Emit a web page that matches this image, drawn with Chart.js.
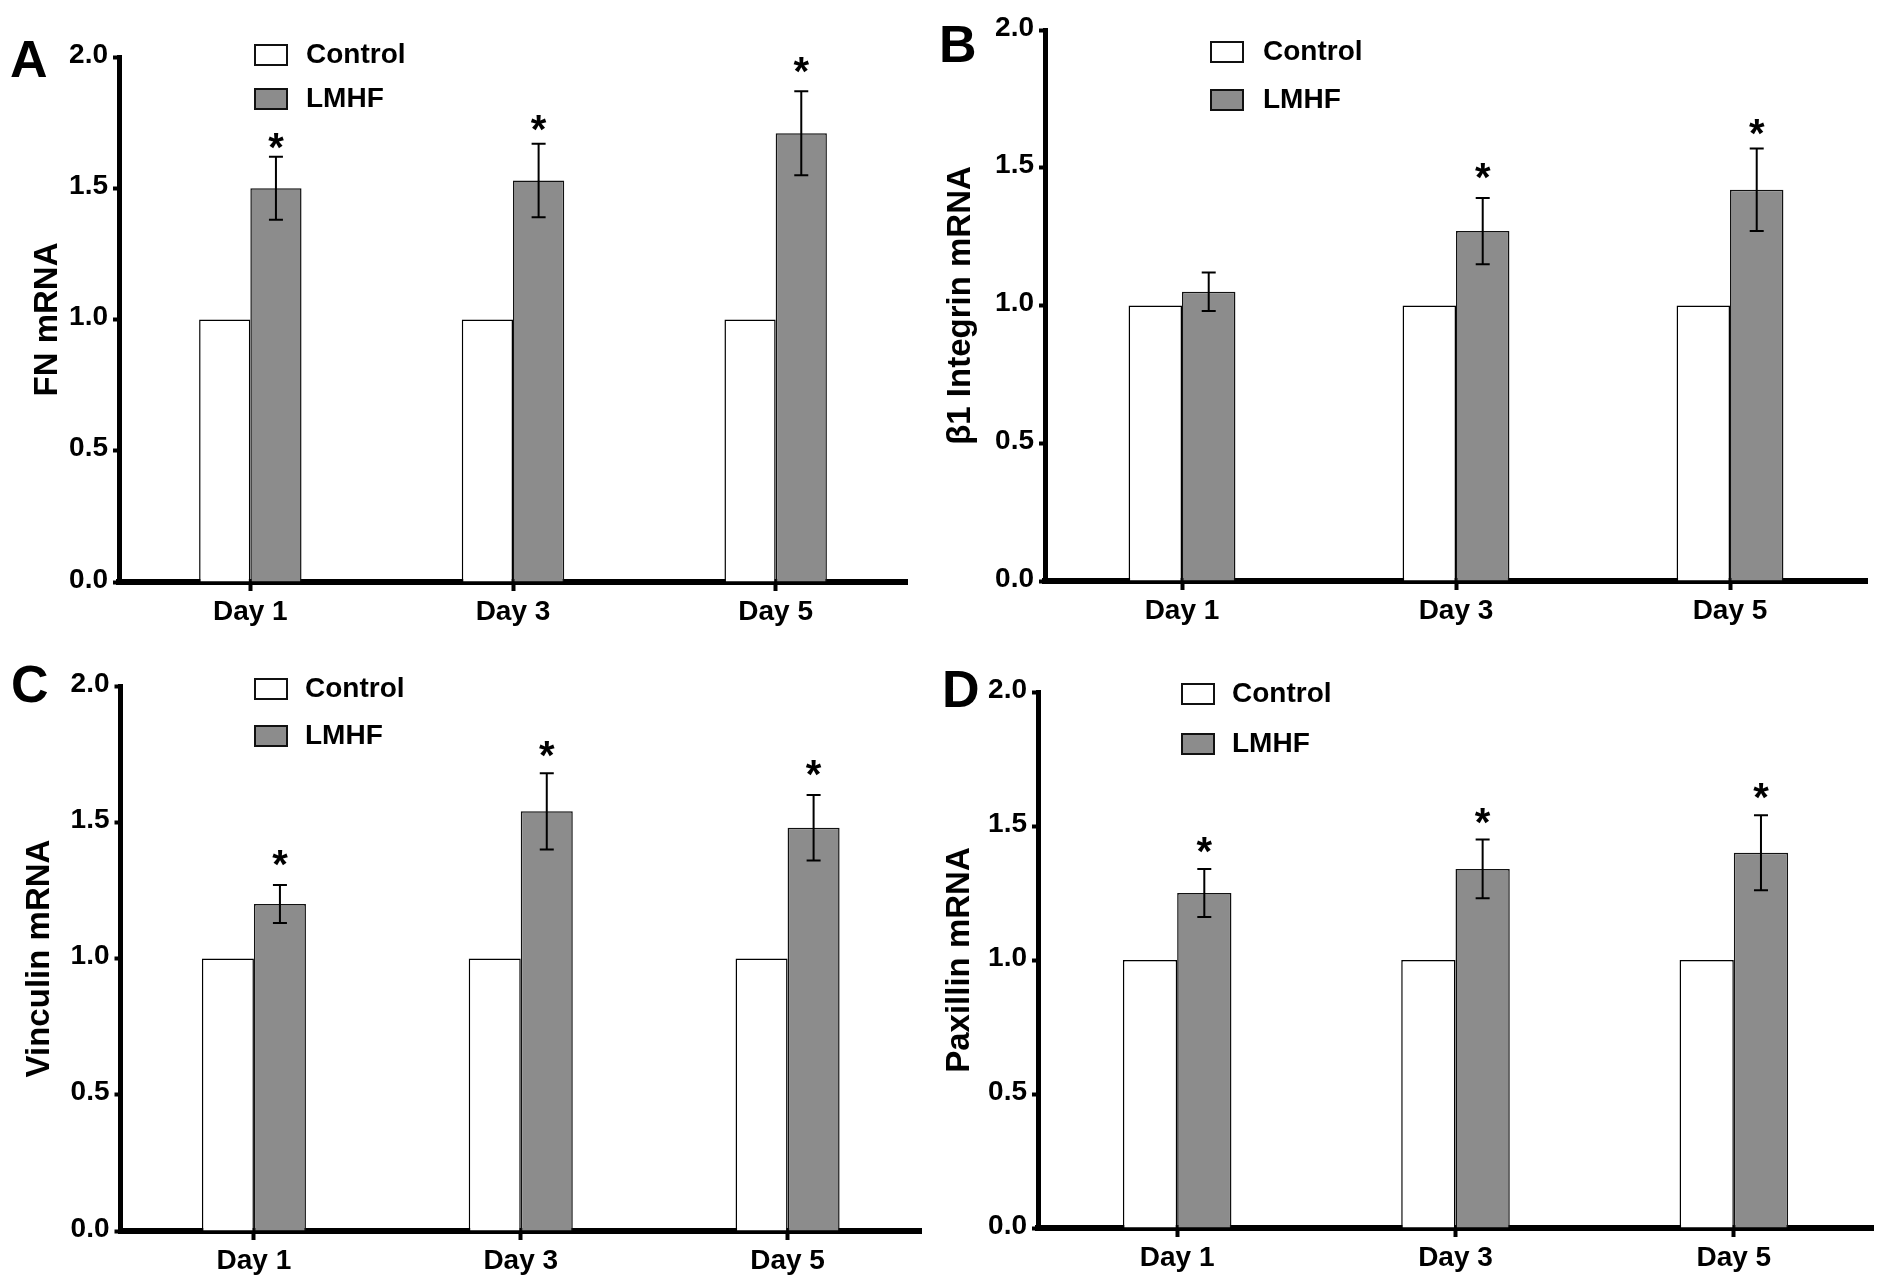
<!DOCTYPE html>
<html>
<head>
<meta charset="utf-8">
<title>mRNA expression, Control vs LMHF</title>
<script src="https://cdn.jsdelivr.net/npm/chart.js@4.4.0/dist/chart.umd.min.js"></script>
<style>
  html, body { margin: 0; padding: 0; background: #fff; }
  #page { position: relative; width: 1890px; height: 1286px; overflow: hidden; background: #fff; }
  .panel { position: absolute; }
</style>
</head>
<body>
<div id="page">
  <div class="panel" id="boxA"><canvas id="chartA"></canvas></div>
  <div class="panel" id="boxB"><canvas id="chartB"></canvas></div>
  <div class="panel" id="boxC"><canvas id="chartC"></canvas></div>
  <div class="panel" id="boxD"><canvas id="chartD"></canvas></div>
</div>
<script>
// shared categories / legend / ticks
var days = ['Day 1', 'Day 3', 'Day 5'];
var seriesNames = ['Control', 'LMHF'];
var yTicks = [0, 0.5, 1.0, 1.5, 2.0];

// A: FN mRNA
var fnControl = [1, 1, 1];
var fnLmhf = [1.50, 1.53, 1.71];
var fnErr = [0.12, 0.14, 0.16];
var fnStars = [1.69, 1.76, 1.98];

// B: beta1 integrin mRNA
var itgControl = [1, 1, 1];
var itgLmhf = [1.05, 1.27, 1.42];
var itgErr = [0.07, 0.12, 0.15];
var itgStars = [null, 1.50, 1.66];

// C: vinculin mRNA
var vclControl = [1, 1, 1];
var vclLmhf = [1.20, 1.54, 1.48];
var vclErr = [0.07, 0.14, 0.12];
var vclStars = [1.38, 1.78, 1.71];

// D: paxillin mRNA
var pxnControl = [1, 1, 1];
var pxnLmhf = [1.25, 1.34, 1.40];
var pxnErr = [0.09, 0.11, 0.14];
var pxnStars = [1.44, 1.55, 1.64];

var FONT = '"Liberation Sans", Arial, Helvetica, sans-serif';
var GREY = '#8c8c8c';

/**
 * draws error bars, asterisks, the legend and the panel letter
 */
var panelDeco = {
  id : 'panelDeco',
  afterDatasetsDraw : function (chart, args, opts) {
    var ctx = chart.ctx;
    var yScale = chart.scales.y;
    var meta = chart.getDatasetMeta(1);
    var values = chart.data.datasets[1].data;

    ctx.save();
    ctx.strokeStyle = '#000';
    ctx.lineWidth = 2;
    opts.errors.forEach(function (err, i) {
      var x = meta.data[i].x;
      var yTop = yScale.getPixelForValue(values[i] + err);
      var yBot = yScale.getPixelForValue(values[i] - err);
      ctx.beginPath();
      ctx.moveTo(x, yTop); ctx.lineTo(x, yBot);
      ctx.moveTo(x - 7, yTop); ctx.lineTo(x + 7, yTop);
      ctx.moveTo(x - 7, yBot); ctx.lineTo(x + 7, yBot);
      ctx.stroke();
    });

    ctx.fillStyle = '#000';
    ctx.font = 'bold 40px ' + FONT;
    ctx.textAlign = 'center';
    ctx.textBaseline = 'alphabetic';
    opts.stars.forEach(function (s, i) {
      if (s === null) { return; }
      ctx.fillText('*', meta.data[i].x, yScale.getPixelForValue(s) + 23);
    });
    ctx.restore();
  },
  afterDraw : function (chart, args, opts) {
    var ctx = chart.ctx;
    ctx.save();
    chart.data.datasets.forEach(function (ds, i) {
      var cy = opts.legendY + i * opts.legendGap;
      ctx.fillStyle = ds.backgroundColor;
      ctx.fillRect(opts.legendX, cy - 10, 32, 20);
      ctx.strokeStyle = '#111';
      ctx.lineWidth = 2;
      ctx.strokeRect(opts.legendX, cy - 10, 32, 20);
      ctx.fillStyle = '#000';
      ctx.font = 'bold 28px ' + FONT;
      ctx.textAlign = 'left';
      ctx.textBaseline = 'middle';
      ctx.fillText(ds.label, opts.textX, cy);
    });

    // panel letter
    ctx.fillStyle = '#000';
    ctx.font = 'bold 52px ' + FONT;
    ctx.textAlign = 'left';
    ctx.textBaseline = 'alphabetic';
    ctx.fillText(opts.letter, opts.letterX, opts.letterY);
    ctx.restore();
  },
};

/**
 * build one panel
 * @param {object} p panel description (box in page pixels, chart area in page pixels)
 */
function makePanel(p) {
  var box = document.getElementById(p.boxId);
  box.style.left = p.box[0] + 'px';
  box.style.top = p.box[1] + 'px';
  box.style.width = p.box[2] + 'px';
  box.style.height = p.box[3] + 'px';

  var xHeight = 50;
  var yWidth = p.area[0] - p.box[0];
  var titleSize = 33;

  var ctx = document.getElementById(p.canvasId).getContext('2d');
  return new Chart(ctx, {
    type : 'bar',
    data : {
      labels : days,
      datasets : [
        {
          label : seriesNames[0],
          data : p.control,
          backgroundColor : '#ffffff',
          borderColor : '#000',
          borderWidth : 1.5,
          categoryPercentage : 0.39,
          barPercentage : 1.0,
        },
        {
          label : seriesNames[1],
          data : p.lmhf,
          backgroundColor : GREY,
          borderColor : '#111',
          borderWidth : 1.5,
          categoryPercentage : 0.39,
          barPercentage : 1.0,
        },
      ],
    },
    options : {
      responsive : true,
      maintainAspectRatio : false,
      animation : false,
      layout : {
        padding : {
          left : 0,
          top : p.area[1] - p.box[1],
          right : p.box[0] + p.box[2] - p.area[2],
          bottom : p.box[1] + p.box[3] - p.area[3] - xHeight,
        },
      },
      plugins : {
        legend : { display : false },
        tooltip : { enabled : false },
        panelDeco : {
          errors : p.errors,
          stars : p.stars,
          letter : p.letter,
          letterX : p.letterPos[0] - p.box[0],
          letterY : p.letterPos[1] - p.box[1],
          legendX : p.legend[0] - p.box[0],
          legendY : p.legend[1] - p.box[1],
          legendGap : p.legend[2],
          textX : p.legend[3] - p.box[0],
        },
      },
      scales : {
        x : {
          grid : {
            display : true,
            drawOnChartArea : false,
            drawTicks : true,
            offset : false,
            tickLength : 9,
            tickWidth : 4,
            tickColor : '#000',
          },
          border : { display : true, color : '#000', width : 6 },
          ticks : {
            color : '#000',
            padding : 4,
            font : { family : FONT, size : 28, weight : 'bold' },
          },
          afterFit : function (scale) { scale.height = xHeight; },
        },
        y : {
          min : 0,
          max : 2,
          grid : {
            display : true,
            drawOnChartArea : false,
            drawTicks : true,
            tickLength : 6,
            tickWidth : 4,
            tickColor : '#000',
          },
          border : { display : true, color : '#000', width : 5 },
          ticks : {
            color : '#000',
            padding : 5,
            labelOffset : -2,
            font : { family : FONT, size : 28, weight : 'bold' },
            callback : function (v) { return Number(v).toFixed(1); },
          },
          afterBuildTicks : function (scale) {
            scale.ticks = yTicks.map(function (v) { return { value : v }; });
          },
          title : {
            display : true,
            text : p.title,
            color : '#000',
            font : { family : FONT, size : titleSize, weight : 'bold' },
            padding : { top : p.titleX - p.box[0] - (titleSize * 1.2) / 2, bottom : 0 },
          },
          afterFit : function (scale) { scale.width = yWidth; },
        },
      },
    },
    plugins : [panelDeco],
  });
}

var charts = [
  {
    boxId : 'boxA', canvasId : 'chartA', letter : 'A',
    box : [0, 0, 935, 643], area : [119, 57, 907, 582],
    title : 'FN mRNA', titleX : 48,
    legend : [255, 55, 44, 306], letterPos : [10, 77],
    control : fnControl, lmhf : fnLmhf, errors : fnErr, stars : fnStars,
  },
  {
    boxId : 'boxB', canvasId : 'chartB', letter : 'B',
    box : [935, 0, 955, 643], area : [1045, 30, 1867, 581],
    title : 'β1 Integrin mRNA', titleX : 961,
    legend : [1211, 52, 48, 1263], letterPos : [939, 62],
    control : itgControl, lmhf : itgLmhf, errors : itgErr, stars : itgStars,
  },
  {
    boxId : 'boxC', canvasId : 'chartC', letter : 'C',
    box : [0, 643, 935, 643], area : [120.5, 686, 921, 1231],
    title : 'Vinculin mRNA', titleX : 40,
    legend : [255, 689, 47, 305], letterPos : [11, 702],
    control : vclControl, lmhf : vclLmhf, errors : vclErr, stars : vclStars,
  },
  {
    boxId : 'boxD', canvasId : 'chartD', letter : 'D',
    box : [935, 643, 955, 643], area : [1038, 692, 1873, 1228],
    title : 'Paxillin mRNA', titleX : 960,
    legend : [1182, 694, 50, 1232], letterPos : [942, 707],
    control : pxnControl, lmhf : pxnLmhf, errors : pxnErr, stars : pxnStars,
  },
].map(makePanel);
</script>
</body>
</html>
